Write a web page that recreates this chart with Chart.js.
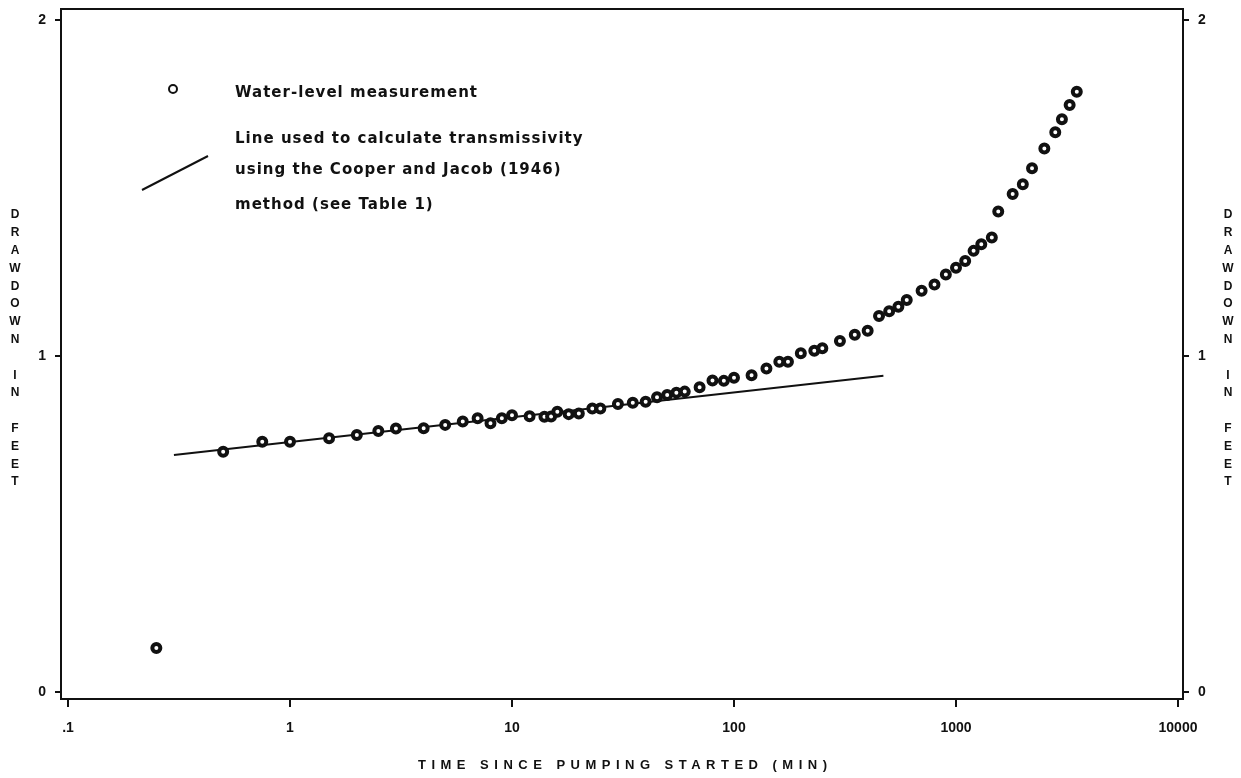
<!DOCTYPE html>
<html>
<head>
<meta charset="utf-8">
<script src="https://cdn.jsdelivr.net/npm/chart.js@4.4.1/dist/chart.umd.min.js"></script>
<style>
html,body{margin:0;padding:0;background:#fff;}
#wrap{width:1241px;height:778px;}
</style>
</head>
<body>
<div id="wrap"><canvas id="c" width="1241" height="778"></canvas></div>
<script>
// ---- data ----
const timeMin = [0.25, 0.5, 0.75, 1.0, 1.5, 2.0, 2.5, 3.0, 4.0, 5.0, 6.0, 7.0, 8.0, 9.0, 10, 12, 14, 15, 16, 18, 20, 23, 25, 30, 35, 40, 45, 50, 55, 60, 70, 80, 90, 100, 120, 140, 160, 175, 200, 230, 250, 300, 350, 400, 450, 500, 550, 600, 700, 800, 900, 1000, 1100, 1200, 1300, 1450, 1550, 1800, 2000, 2200, 2500, 2800, 3000, 3250, 3500];
const drawdownFt = [0.131, 0.715, 0.745, 0.745, 0.755, 0.765, 0.777, 0.784, 0.785, 0.795, 0.805, 0.815, 0.800, 0.815, 0.824, 0.821, 0.819, 0.820, 0.834, 0.827, 0.829, 0.844, 0.844, 0.857, 0.861, 0.864, 0.877, 0.884, 0.891, 0.894, 0.907, 0.927, 0.926, 0.935, 0.943, 0.963, 0.983, 0.983, 1.008, 1.016, 1.023, 1.045, 1.063, 1.075, 1.119, 1.133, 1.147, 1.167, 1.194, 1.213, 1.243, 1.263, 1.283, 1.313, 1.333, 1.353, 1.430, 1.482, 1.511, 1.559, 1.618, 1.666, 1.705, 1.747, 1.787];
const lineTime = [0.3, 471];
const lineDrawdown = [0.705, 0.941];
const xTickValues = [0.1, 1, 10, 100, 1000, 10000];
const xTickLabels = ['.1', '1', '10', '100', '1000', '10000'];
const yTickValues = [0, 1, 2];
const yTickLabels = ['0', '1', '2'];
const xTitle = 'TIME SINCE PUMPING STARTED (MIN)';
const yTitle = 'DRAWDOWN IN FEET';
const legendPointText = 'Water-level measurement';
const legendLineText = ['Line used to calculate transmissivity', 'using the Cooper and Jacob (1946)', 'method (see Table 1)'];

const FONT = '"Liberation Sans", Arial, sans-serif';
const LFONT = '"DejaVu Sans", "Liberation Sans", sans-serif';

const points = timeMin.map((t, i) => ({x: t, y: drawdownFt[i]}));
const linePts = lineTime.map((t, i) => ({x: t, y: lineDrawdown[i]}));

const decor = {
  id: 'decor',
  afterDraw(chart) {
    const ctx = chart.ctx;
    const a = chart.chartArea;
    ctx.save();
    ctx.strokeStyle = '#111';
    ctx.fillStyle = '#111';
    // top frame line
    ctx.lineWidth = 2;
    ctx.beginPath();
    ctx.moveTo(a.left, a.top);
    ctx.lineTo(a.right, a.top);
    ctx.stroke();
    // legend: point symbol
    ctx.lineWidth = 2;
    ctx.beginPath();
    ctx.arc(173, 89, 4, 0, Math.PI * 2);
    ctx.stroke();
    // legend: line symbol
    ctx.beginPath();
    ctx.moveTo(142, 190);
    ctx.lineTo(208, 156);
    ctx.stroke();
    // legend texts
    ctx.font = 'bold 15px ' + LFONT;
    ctx.textBaseline = 'middle';
    ctx.textAlign = 'left';
    ctx.letterSpacing = '0px';
    const w0 = ctx.measureText(legendPointText).width;
    const ls = Math.max(0, (242 - w0) / (legendPointText.length - 1));
    ctx.letterSpacing = ls + 'px';
    ctx.fillText(legendPointText, 235, 93);
    const ly = [139, 170, 205];
    legendLineText.forEach((t, i) => ctx.fillText(t, 235, ly[i]));
    ctx.letterSpacing = '0px';
    // x axis title
    ctx.font = 'bold 13px ' + FONT;
    const wt = ctx.measureText(xTitle).width;
    ctx.letterSpacing = ((409 - wt) / (xTitle.length - 1)) + 'px';
    ctx.fillText(xTitle, 418, 765);
    ctx.letterSpacing = '0px';
    // vertical y titles (stacked letters)
    ctx.font = 'bold 12px ' + FONT;
    ctx.textAlign = 'center';
    yTitle.split('').forEach((ch, i) => {
      if (ch === ' ') return;
      const y = 215 + i * 17.8;
      ctx.fillText(ch, 15, y);
      ctx.fillText(ch, 1228, y);
    });
    ctx.restore();
  }
};

const axisCommon = {
  grid: {display: true, drawOnChartArea: false, drawTicks: true, color: '#111', lineWidth: 2},
  border: {display: true, color: '#111', width: 2}
};
const tickFont = {family: FONT, size: 14, weight: 'bold'};
function yLabel(v) { const i = yTickValues.indexOf(v); return i >= 0 ? yTickLabels[i] : ''; }

new Chart(document.getElementById('c'), {
  type: 'scatter',
  data: {
    datasets: [
      {
        label: legendPointText,
        data: points,
        pointRadius: 4,
        pointHoverRadius: 4,
        pointBorderWidth: 4,
        pointBackgroundColor: '#fff',
        pointBorderColor: '#111',
        showLine: false
      },
      {
        label: 'line',
        data: linePts,
        showLine: true,
        borderColor: '#111',
        borderWidth: 2,
        pointRadius: 0,
        fill: false
      }
    ]
  },
  options: {
    responsive: false,
    animation: false,
    devicePixelRatio: 1,
    layout: {padding: {top: 9, left: 0, right: 0, bottom: 0}},
    plugins: {legend: {display: false}, tooltip: {enabled: false}},
    scales: {
      x: {
        type: 'logarithmic',
        position: 'bottom',
        min: 0.093,
        max: 10532,
        ...axisCommon,
        grid: {...axisCommon.grid, tickLength: 8},
        afterBuildTicks(s) { s.ticks = xTickValues.map(v => ({value: v})); },
        afterFit(s) { s.height = 79; s.paddingLeft = 0; s.paddingRight = 0; },
        ticks: {
          autoSkip: false,
          maxRotation: 0,
          color: '#111',
          padding: 13,
          font: tickFont,
          callback(v) { const i = xTickValues.indexOf(v); return i >= 0 ? xTickLabels[i] : ''; }
        }
      },
      y: {
        type: 'linear',
        position: 'left',
        min: -0.021,
        max: 2.033,
        ...axisCommon,
        grid: {...axisCommon.grid, tickLength: 6},
        afterBuildTicks(s) { s.ticks = yTickValues.map(v => ({value: v})); },
        afterFit(s) { s.width = 61; s.paddingTop = 0; s.paddingBottom = 0; },
        ticks: {color: '#111', padding: 9, font: tickFont, callback: yLabel}
      },
      y2: {
        type: 'linear',
        position: 'right',
        min: -0.021,
        max: 2.033,
        ...axisCommon,
        grid: {...axisCommon.grid, tickLength: 6},
        afterBuildTicks(s) { s.ticks = yTickValues.map(v => ({value: v})); },
        afterFit(s) { s.width = 58; s.paddingTop = 0; s.paddingBottom = 0; },
        ticks: {color: '#111', padding: 9, font: tickFont, callback: yLabel}
      }
    }
  },
  plugins: [decor]
});
</script>
</body>
</html>
